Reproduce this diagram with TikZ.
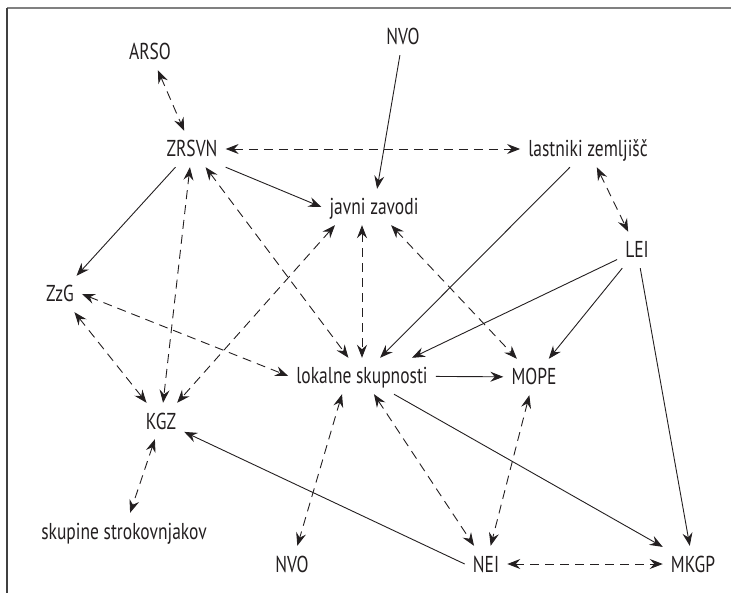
\documentclass[tikz,border=0pt]{standalone}
\usepackage{fontspec}
\setmainfont{PT Sans}[FakeStretch=0.76]
\usetikzlibrary{arrows.meta}
\definecolor{ink}{RGB}{35,31,32}

\begin{document}
\begin{tikzpicture}[x=1pt,y=-1pt,
  every node/.style={font=\fontsize{23}{27}\selectfont,text=ink,inner xsep=8pt,inner ysep=10pt,text height=16pt,text depth=0pt},
  oneway/.style={draw=ink,line width=0.9pt,-{Stealth[length=13pt,width=10pt,inset=4.5pt]}},
  twoway/.style={draw=ink,line width=0.9pt,dash pattern=on 9pt off 6pt,{Stealth[length=13pt,width=10pt,inset=4.5pt]}-{Stealth[length=13pt,width=10pt,inset=4.5pt]}}]
  \useasboundingbox (0,0) rectangle (731,593);
  \draw[gray,line width=1.3pt] (7,8) -- (731,8);
  \draw[darkgray,line width=1.3pt] (7,8) -- (7,593);
  \foreach \n/\x/\y/\t in {arso/150/52/ARSO,nvoa/403/37/NVO,zr/192/149/ZRSVN,lz/588/149/lastniki zemljišč,
    jz/374/207/javni zavodi,lei/637/250/LEI,zzg/60/294/ZzG,lok/362/376/lokalne skupnosti,mope/534/377/MOPE,
    kgz/161/421/KGZ,sk/124/531/skupine strokovnjakov,nvob/292/564/NVO,nei/486/564/NEI,mkgp/693/564/MKGP}
    \node (\n) at (\x,\y) {\t};
  \foreach \a/\b in {arso/zr,zr/lz,lz/lei,zr/kgz,zr/lok,jz.205/kgz,jz.south -| lok/lok,jz/mope,
    zzg.east/lok.west,zzg/kgz,kgz/sk,lok/nei,mope/nei,nei/mkgp}
    \draw[twoway] (\a) -- (\b);
  \draw[twoway] ([xshift=-20pt]lok.south) -- (nvob);
  \foreach \a/\b in {nvoa/jz,zr.south east/jz.west,zr/zzg,lz/lok,lei/lok.20,lei/mope,lei/mkgp,
    lok/mope,lok/mkgp,nei.west/kgz}
    \draw[oneway] (\a) -- (\b);
\end{tikzpicture}
\end{document}
